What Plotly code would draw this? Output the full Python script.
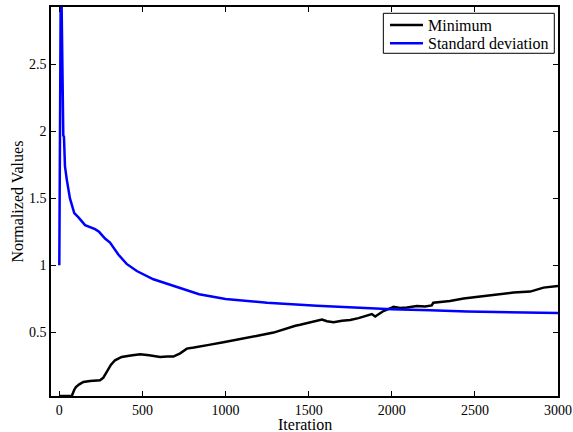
import plotly.graph_objects as go

# Standard deviation series (iteration, normalized value)
std_iter = [0, 8, 14, 20, 24, 28, 34, 45, 64, 90, 114, 155, 215, 239, 275, 305, 355, 405,
            466, 566, 686, 841, 1000, 1250, 1549, 2000, 2230, 2452, 3000]
std_vals = [1.0, 2.93, 2.93, 2.0, 1.97, 1.96, 1.74, 1.64, 1.5, 1.39, 1.36, 1.30, 1.27, 1.25,
            1.20, 1.17, 1.08, 1.01, 0.957, 0.895, 0.845, 0.783, 0.748, 0.72, 0.697, 0.671,
            0.664, 0.655, 0.643]

# Minimum series (iteration, normalized value)
min_iter = [0, 75, 90, 100, 120, 145, 185, 245, 265, 290, 310, 335, 375, 430, 486, 540, 606,
            650, 686, 727, 767, 810, 847, 900, 987, 1088, 1150, 1200, 1289, 1348, 1389, 1420,
            1449, 1489, 1520, 1549, 1580, 1610, 1650, 1700, 1750, 1800, 1850, 1880, 1900, 1950,
            2000, 2010, 2050, 2091, 2151, 2200, 2240, 2250, 2350, 2432, 2532, 2632, 2733, 2833,
            2913, 3000]
min_vals = [0.023, 0.023, 0.07, 0.09, 0.11, 0.128, 0.135, 0.14, 0.16, 0.21, 0.255, 0.29, 0.315,
            0.325, 0.335, 0.328, 0.315, 0.318, 0.318, 0.342, 0.377, 0.385, 0.395, 0.405, 0.425,
            0.447, 0.462, 0.475, 0.497, 0.522, 0.534, 0.548, 0.555, 0.567, 0.58, 0.588, 0.595,
            0.582, 0.575, 0.585, 0.591, 0.605, 0.622, 0.635, 0.617, 0.658, 0.684, 0.69, 0.68,
            0.684, 0.696, 0.692, 0.70, 0.72, 0.733, 0.751, 0.766, 0.783, 0.796, 0.803, 0.833,
            0.845]

series_names = ["Minimum", "Standard deviation"]
series_colors = ["black", "#0000ff"]
x_title = "Iteration"
y_title = "Normalized Values"

x_ticks = [0, 500, 1000, 1500, 2000, 2500, 3000]
y_ticks = [0.5, 1, 1.5, 2, 2.5]

tick_font = dict(family="Liberation Serif", size=14, color="black")
label_font = dict(family="Liberation Serif", size=16, color="black")

fig = go.Figure()
fig.add_trace(go.Scatter(x=min_iter, y=min_vals, mode="lines", name=series_names[0],
                         line=dict(color=series_colors[0], width=2.5)))
fig.add_trace(go.Scatter(x=std_iter, y=std_vals, mode="lines", name=series_names[1],
                         line=dict(color=series_colors[1], width=2.5)))

axis_common = dict(showline=True, linecolor="black", linewidth=1.5, mirror="ticks",
                   ticks="inside", ticklen=5, tickwidth=1, tickcolor="black",
                   showgrid=False, zeroline=False, tickfont=tick_font, automargin=False)

fig.update_xaxes(range=[-50, 3000], tickvals=x_ticks, **axis_common)
fig.update_yaxes(range=[0.023, 2.93], tickvals=y_ticks, **axis_common)

# Axis titles
fig.add_annotation(xref="paper", yref="paper", x=0.5, y=-0.072, text=x_title, showarrow=False,
                   xanchor="center", yanchor="middle", font=label_font)
fig.add_annotation(xref="paper", yref="paper", x=-0.067, y=0.5, text=y_title, showarrow=False,
                   xanchor="center", yanchor="middle", textangle=-90, font=label_font)

# Legend box drawn in paper coordinates (compact, like the original)
box = dict(x0=0.6555, x1=0.9927, y0=0.881, y1=0.9838)
fig.add_shape(type="rect", xref="paper", yref="paper", **box,
              line=dict(color="black", width=1), fillcolor="white", layer="above")
row_y = [0.9537, 0.9067]
for name, color, yy in zip(series_names, series_colors, row_y):
    fig.add_shape(type="line", xref="paper", yref="paper", x0=0.6686, x1=0.7337, y0=yy, y1=yy,
                  line=dict(color=color, width=2.5), layer="above")
    fig.add_annotation(xref="paper", yref="paper", x=0.7395, y=yy, text=name, showarrow=False,
                       xanchor="left", yanchor="middle", font=label_font)

fig.update_layout(
    width=573, height=432,
    margin=dict(l=51, r=15, t=7, b=36),
    paper_bgcolor="white", plot_bgcolor="white",
    font=tick_font,
    showlegend=False,
)

fig.write_html("out.html")
